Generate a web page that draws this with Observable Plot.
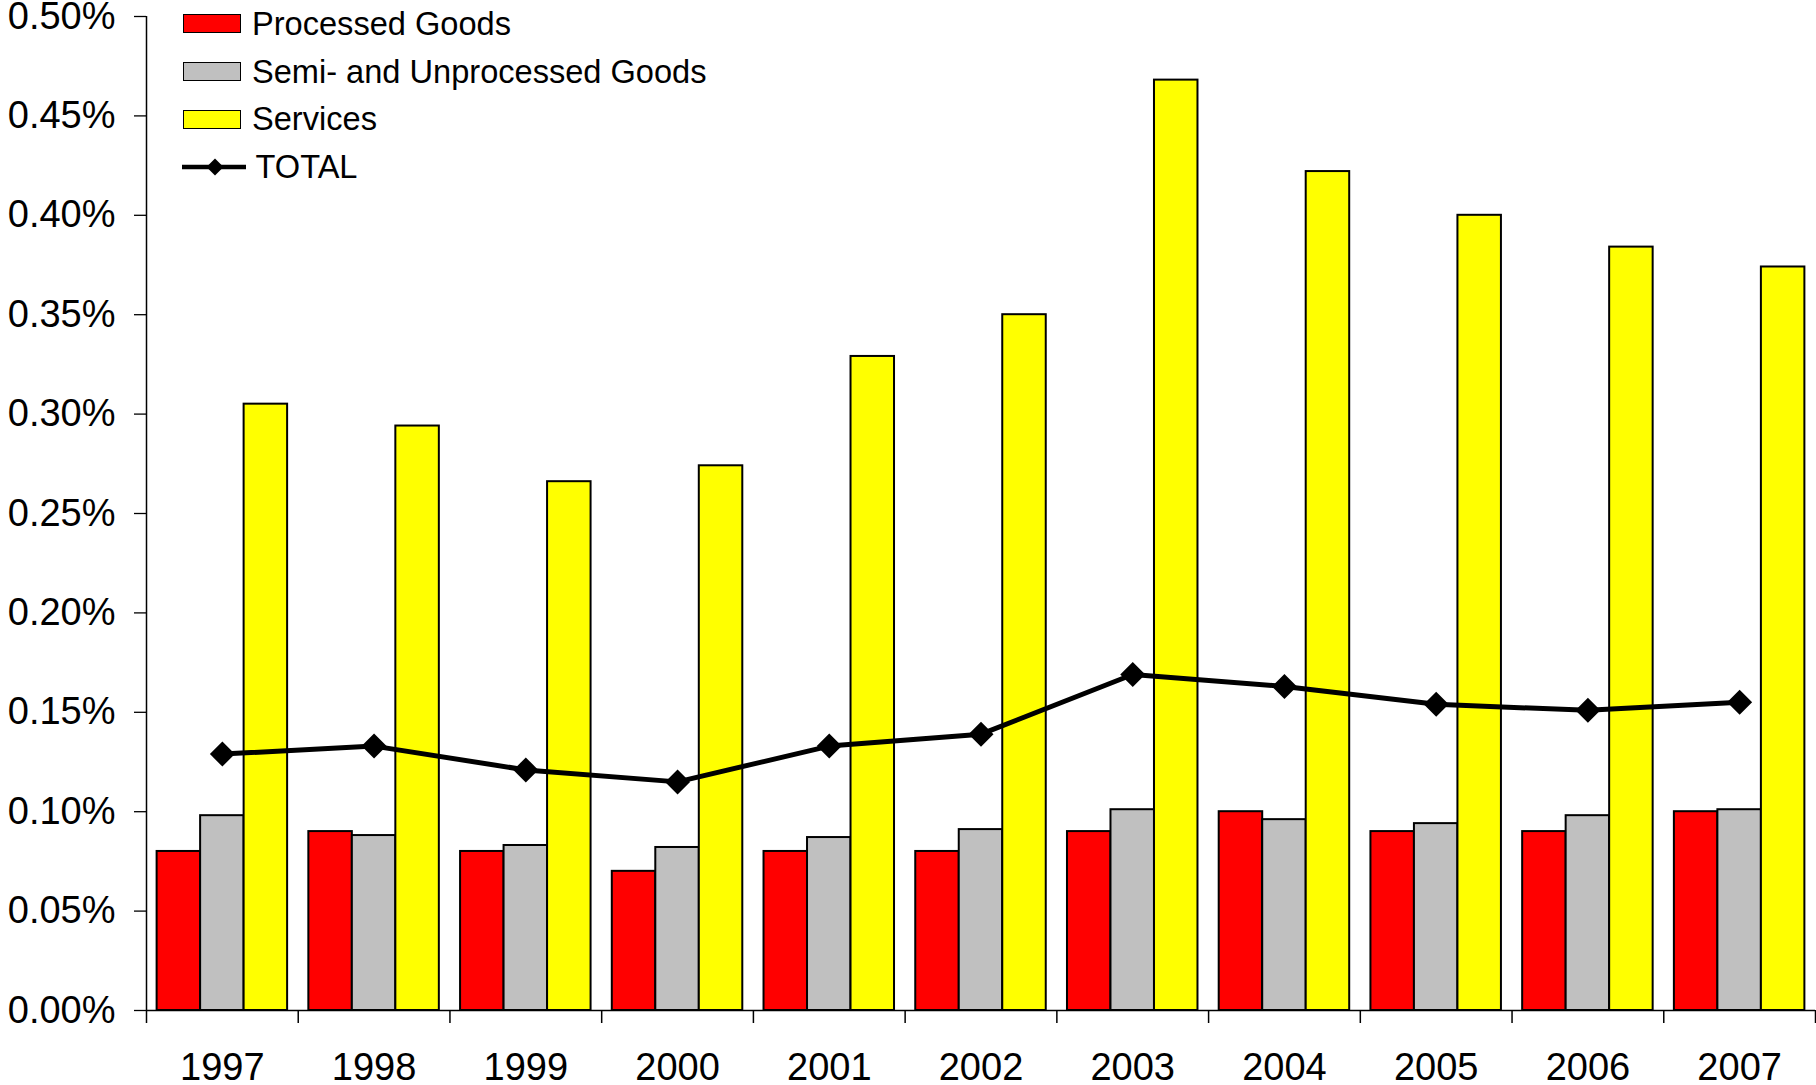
<!DOCTYPE html>
<html><head><meta charset="utf-8">
<script src="https://cdn.jsdelivr.net/npm/d3@7"></script>
<script src="https://cdn.jsdelivr.net/npm/@observablehq/plot@0.6"></script>
<style>
html,body{margin:0;padding:0;background:#fff;}
#wrap{position:relative;width:1816px;height:1085px;font-family:"Liberation Sans",Arial,sans-serif;}
#legend{position:absolute;left:183px;top:0;}
.row{display:flex;align-items:center;height:47.7px;font-size:32.6px;color:#000;white-space:nowrap;}
.sw{width:56px;height:17px;border:1.5px solid #000;margin-right:11px;box-sizing:content-box;}
.row svg{margin-left:-1.5px;margin-right:10px;}
</style></head><body><div id="wrap"><div id="chart"></div><div id="legend"></div></div>
<script>
const years = ["1997","1998","1999","2000","2001","2002","2003","2004","2005","2006","2007"];
const processedGoods = [0.080,0.090,0.080,0.070,0.080,0.080,0.090,0.100,0.090,0.090,0.100];
const semiUnprocessedGoods = [0.098,0.088,0.083,0.082,0.087,0.091,0.101,0.096,0.094,0.098,0.101];
const services = [0.305,0.294,0.266,0.274,0.329,0.350,0.468,0.422,0.400,0.384,0.374];
const total = [0.129,0.133,0.121,0.115,0.133,0.139,0.169,0.163,0.154,0.151,0.155];
const seriesNames = ["Processed Goods","Semi- and Unprocessed Goods","Services"];
const seriesColors = ["#ff0000","#c0c0c0","#ffff00"];
const totalName = "TOTAL";
const yTicks = [0,0.05,0.10,0.15,0.20,0.25,0.30,0.35,0.40,0.45,0.50];

const W = 1816, H = 1085, mL = 146, mR = 1, mT = 16, mB = 75;
const bw = (W - mL - mR) / years.length;
const barW = 43.5;
const gap = (bw - 3 * barW) / 2;

const seriesValues = [processedGoods, semiUnprocessedGoods, services];
const barMarks = seriesValues.map((vals, k) =>
  Plot.barY(years.map((y, i) => ({year: y, value: vals[i]})), {
    x: "year", y: "value", fill: seriesColors[k], stroke: "#000", strokeWidth: 2,
    insetLeft: gap + k * barW, insetRight: bw - gap - (k + 1) * barW
  })
);
const totalData = years.map((y, i) => ({year: y, value: total[i]}));
const diamond = {draw(ctx, size) { const r = Math.sqrt(size / Math.PI); ctx.moveTo(0, -r); ctx.lineTo(r, 0); ctx.lineTo(0, r); ctx.lineTo(-r, 0); ctx.closePath(); }};

const chart = Plot.plot({
  width: W, height: H, marginLeft: mL, marginRight: mR, marginTop: mT, marginBottom: mB,
  style: {fontFamily: '"Liberation Sans", Arial, sans-serif', color: "#000", background: "#fff", overflow: "visible"},
  x: {type: "band", domain: years, padding: 0, round: false, label: null},
  y: {domain: [0, 0.5], label: null},
  marks: [
    ...barMarks,
    Plot.axisY({ticks: yTicks, tickFormat: d => d.toFixed(2) + "%", tickSize: 12, tickPadding: 19, fontSize: 38, stroke: "#000", strokeWidth: 1.3, strokeOpacity: 1, fill: "#000", label: null}),
    Plot.axisX({tickSize: 0, tickPadding: 43, fontSize: 38, fill: "#000", label: null}),
    Plot.ruleY([0], {stroke: "#000", strokeWidth: 1.5}),
    Plot.ruleX([years[0]], {x: d => d, y1: 0, y2: 0.5, dx: -bw / 2, stroke: "#000", strokeWidth: 1.5}),
    Plot.ruleX(years, {x: d => d, y1: 0, y2: 0, insetBottom: -13, dx: -bw / 2, stroke: "#000", strokeWidth: 1.5}),
    Plot.ruleX([years[years.length - 1]], {x: d => d, y1: 0, y2: 0, insetBottom: -13, dx: bw / 2, stroke: "#000", strokeWidth: 1.5}),
    Plot.line(totalData, {x: "year", y: "value", stroke: "#000", strokeWidth: 5}),
    Plot.dot(totalData, {x: "year", y: "value", symbol: diamond, r: 12.5, fill: "#000", stroke: "none"})
  ]
});
document.getElementById("chart").appendChild(chart);

const legend = document.getElementById("legend");
seriesNames.forEach((name, k) => {
  const row = document.createElement("div");
  row.className = "row";
  const sw = document.createElement("div");
  sw.className = "sw";
  sw.style.background = seriesColors[k];
  row.appendChild(sw);
  row.appendChild(document.createTextNode(name));
  legend.appendChild(row);
});
const trow = document.createElement("div");
trow.className = "row";
trow.innerHTML = '<svg width="64" height="20" viewBox="0 0 64 20"><line x1="0" y1="10" x2="64" y2="10" stroke="#000" stroke-width="4.5"/><path d="M33 1.5L41.5 10L33 18.5L24.5 10Z" fill="#000"/></svg>';
trow.appendChild(document.createTextNode(totalName));
legend.appendChild(trow);
</script></body></html>
